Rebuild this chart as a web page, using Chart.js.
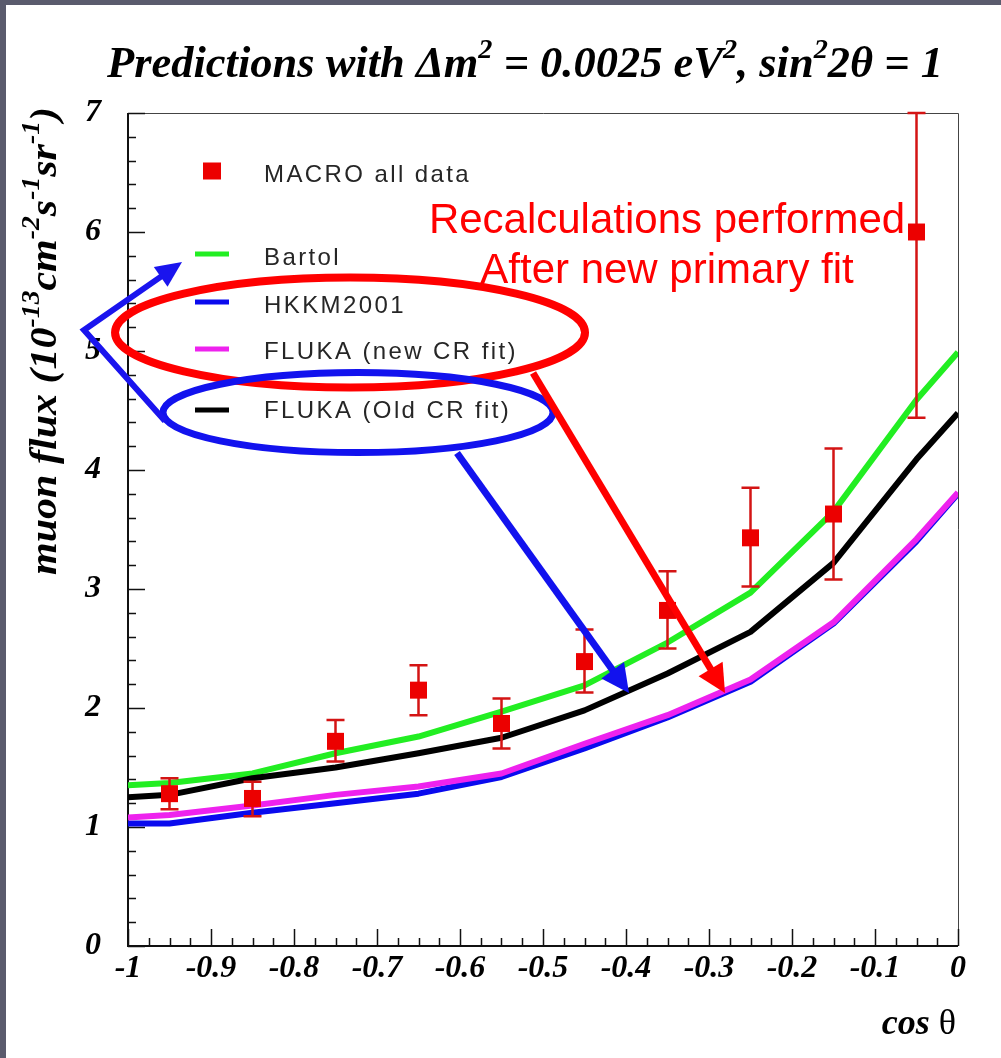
<!DOCTYPE html>
<html>
<head>
<meta charset="utf-8">
<title>Muon flux vs cos theta</title>
<script src="https://cdn.jsdelivr.net/npm/chart.js@4.4.1/dist/chart.umd.min.js"></script>
<style>
  html, body { margin: 0; padding: 0; background: #fff; }
  canvas { display: block; }
</style>
</head>
<body>
<canvas id="flux" width="1001" height="1058"></canvas>
<script>
// MACRO upward-going muons, 10 bins in cos(theta)
const binCos    = [-0.95, -0.85, -0.75, -0.65, -0.55, -0.45, -0.35, -0.25, -0.15, -0.05];
const macroFlux = [1.28, 1.24, 1.72, 2.15, 1.87, 2.39, 2.82, 3.43, 3.63, 6.00];
const macroLow  = [1.15, 1.09, 1.55, 1.94, 1.66, 2.13, 2.50, 3.02, 3.08, 4.44];
const macroHigh = [1.41, 1.38, 1.90, 2.36, 2.08, 2.66, 3.15, 3.85, 4.18, 7.00];

// MC predictions (oscillated), evaluated at bin centres plus the range ends
const curveCos = [-1, -0.95, -0.85, -0.75, -0.65, -0.55, -0.45, -0.35, -0.25, -0.15, -0.05, 0];
const bartol   = [1.35, 1.37, 1.45, 1.62, 1.76, 1.97, 2.19, 2.55, 2.97, 3.65, 4.59, 4.99];
const hkkm2001 = [1.03, 1.03, 1.12, 1.20, 1.28, 1.42, 1.66, 1.92, 2.22, 2.71, 3.40, 3.80];
const flukaNew = [1.08, 1.10, 1.18, 1.27, 1.34, 1.45, 1.70, 1.94, 2.24, 2.72, 3.42, 3.81];
const flukaOld = [1.25, 1.27, 1.41, 1.50, 1.62, 1.75, 1.98, 2.29, 2.64, 3.22, 4.09, 4.48];

const xTickLabels = ["-1", "-0.9", "-0.8", "-0.7", "-0.6", "-0.5", "-0.4", "-0.3", "-0.2", "-0.1", "0"];
const yTickLabels = ["0", "1", "2", "3", "4", "5", "6", "7"];

const SERIF = '"Liberation Serif", "Times New Roman", serif';
const SANS = '"Liberation Sans", Arial, sans-serif';

const toPoints = (xs, ys) => xs.map((x, i) => ({ x: x, y: ys[i] }));

// draw a run of text pieces (with superscripts) squeezed to a given width
function fitText(ctx, parts, x, y, width) {
  let total = 0;
  parts.forEach(p => { ctx.font = p.font; total += ctx.measureText(p.text).width; });
  ctx.save();
  ctx.translate(x, y);
  ctx.scale(width / total, 1);
  ctx.textBaseline = "alphabetic";
  ctx.textAlign = "left";
  let cx = 0;
  parts.forEach(p => {
    ctx.font = p.font;
    ctx.fillText(p.text, cx, p.dy || 0);
    cx += ctx.measureText(p.text).width;
  });
  ctx.restore();
}

function arrowLine(ctx, pts, color, lw, headLen, headHalf) {
  const n = pts.length;
  const [tx, ty] = pts[n - 1];
  const [bx, by] = pts[n - 2];
  const ang = Math.atan2(ty - by, tx - bx);
  ctx.save();
  ctx.strokeStyle = color;
  ctx.fillStyle = color;
  ctx.lineWidth = lw;
  ctx.lineJoin = "miter";
  ctx.beginPath();
  ctx.moveTo(pts[0][0], pts[0][1]);
  for (let i = 1; i < n - 1; i++) ctx.lineTo(pts[i][0], pts[i][1]);
  ctx.lineTo(tx - Math.cos(ang) * headLen * 0.8, ty - Math.sin(ang) * headLen * 0.8);
  ctx.stroke();
  ctx.beginPath();
  ctx.moveTo(tx, ty);
  ctx.lineTo(tx - Math.cos(ang) * headLen - Math.sin(ang) * headHalf,
             ty - Math.sin(ang) * headLen + Math.cos(ang) * headHalf);
  ctx.lineTo(tx - Math.cos(ang) * headLen + Math.sin(ang) * headHalf,
             ty - Math.sin(ang) * headLen - Math.cos(ang) * headHalf);
  ctx.closePath();
  ctx.fill();
  ctx.restore();
}

// slide background, axis frame, ticks and axis texts
const framePlugin = {
  id: "frame",
  beforeDraw(chart) {
    const ctx = chart.ctx;
    ctx.save();
    ctx.fillStyle = "#ffffff";
    ctx.fillRect(0, 0, chart.width, chart.height);
    ctx.fillStyle = "#5a5b6d";
    ctx.fillRect(0, 0, chart.width, 5);
    ctx.fillRect(0, 0, 6, chart.height);
    ctx.restore();
  },
  beforeDatasetsDraw(chart) {
    const ctx = chart.ctx;
    const a = chart.chartArea;
    const xs = chart.scales.x, ys = chart.scales.y;
    ctx.save();

    // thin frame on top/right
    ctx.strokeStyle = "#444";
    ctx.lineWidth = 1;
    ctx.beginPath();
    ctx.moveTo(a.left, a.top + 0.5);
    ctx.lineTo(a.right + 0.5, a.top + 0.5);
    ctx.lineTo(a.right + 0.5, a.bottom);
    ctx.stroke();

    // axes
    ctx.strokeStyle = "#111";
    ctx.lineWidth = 2;
    ctx.beginPath();
    ctx.moveTo(a.left, a.top);
    ctx.lineTo(a.left, a.bottom);
    ctx.lineTo(a.right, a.bottom);
    ctx.stroke();

    // ticks, pointing into the frame
    ctx.lineWidth = 1.5;
    ctx.beginPath();
    for (let i = 0; i <= 35; i++) {
      const py = Math.round(ys.getPixelForValue(i * 0.2)) + 0.5;
      const len = i % 5 === 0 ? 17 : 8;
      ctx.moveTo(a.left, py);
      ctx.lineTo(a.left + len, py);
    }
    for (let i = 0; i <= 40; i++) {
      const px = Math.round(xs.getPixelForValue(-1 + i * 0.025)) + 0.5;
      const len = i % 4 === 0 ? 17 : 8;
      ctx.moveTo(px, a.bottom);
      ctx.lineTo(px, a.bottom - len);
    }
    ctx.stroke();

    // tick labels
    ctx.fillStyle = "#000";
    ctx.font = "italic bold 32px " + SERIF;
    ctx.textBaseline = "middle";
    ctx.textAlign = "right";
    yTickLabels.forEach((t, i) => ctx.fillText(t, a.left - 27, ys.getPixelForValue(i)));
    ctx.textAlign = "center";
    xTickLabels.forEach((t, i) => ctx.fillText(t, xs.getPixelForValue(-1 + i * 0.1), a.bottom + 23));

    // title
    const big = "italic bold 44px " + SERIF;
    const sup = "italic bold 28px " + SERIF;
    fitText(ctx, [
      { text: "Predictions with \u0394m", font: big },
      { text: "2", font: sup, dy: -19 },
      { text: " = 0.0025 eV", font: big },
      { text: "2", font: sup, dy: -19 },
      { text: ", sin", font: big },
      { text: "2", font: sup, dy: -19 },
      { text: "2\u03b8 = 1", font: big }
    ], 107, 77, 836);

    // y axis title, rotated
    const yt = "italic bold 38px " + SERIF;
    const ys2 = "italic bold 25px " + SERIF;
    ctx.save();
    ctx.translate(56, 575);
    ctx.rotate(-Math.PI / 2);
    fitText(ctx, [
      { text: "muon flux (10", font: yt },
      { text: "-13", font: ys2, dy: -17 },
      { text: "cm", font: yt },
      { text: "-2", font: ys2, dy: -17 },
      { text: "s", font: yt },
      { text: "-1", font: ys2, dy: -17 },
      { text: "sr", font: yt },
      { text: "-1", font: ys2, dy: -17 },
      { text: ")", font: yt }
    ], 0, 0, 468);
    ctx.restore();

    // x axis title
    ctx.textAlign = "left";
    ctx.textBaseline = "alphabetic";
    const cosFont = "italic bold 36px " + SERIF;
    const thFont = "36px " + SERIF;
    ctx.font = thFont;
    const wTh = ctx.measureText("\u03b8").width;
    ctx.font = cosFont;
    const wCos = ctx.measureText("cos ").width;
    const x0 = 956 - wTh - wCos;
    ctx.fillText("cos ", x0, 1034);
    ctx.font = thFont;
    ctx.fillText("\u03b8", x0 + wCos, 1034);

    ctx.restore();
  }
};

// vertical error bars with caps, drawn just under the MACRO markers
const errorBarPlugin = {
  id: "errorBars",
  beforeDatasetDraw(chart, args) {
    if (args.index !== 0) return;
    const ctx = chart.ctx;
    const xs = chart.scales.x, ys = chart.scales.y;
    ctx.save();
    ctx.strokeStyle = "#d41414";
    ctx.lineWidth = 2.5;
    ctx.beginPath();
    binCos.forEach((c, i) => {
      const px = xs.getPixelForValue(c);
      const top = ys.getPixelForValue(macroHigh[i]);
      const bot = ys.getPixelForValue(macroLow[i]);
      ctx.moveTo(px, top);
      ctx.lineTo(px, bot);
      ctx.moveTo(px - 9, top);
      ctx.lineTo(px + 9, top);
      ctx.moveTo(px - 9, bot);
      ctx.lineTo(px + 9, bot);
    });
    ctx.stroke();
    ctx.restore();
  }
};

// legend block inside the frame
const legendRows = [
  { mark: 171, text: 175 },
  { mark: 254, text: 258 },
  { mark: 302, text: 306 },
  { mark: 349, text: 352 },
  { mark: 410, text: 411 }
];
const legendPlugin = {
  id: "insetLegend",
  afterDatasetsDraw(chart) {
    const ctx = chart.ctx;
    ctx.save();
    ctx.font = "24px " + SANS;
    ctx.letterSpacing = "2.4px";
    ctx.textBaseline = "middle";
    ctx.textAlign = "left";
    chart.data.datasets.forEach((ds, i) => {
      const row = legendRows[i];
      if (ds.showLine) {
        ctx.fillStyle = ds.borderColor;
        ctx.fillRect(195, row.mark - 2.5, 34, 5);
      } else {
        ctx.fillStyle = ds.backgroundColor;
        ctx.fillRect(203, row.mark - 8.5, 18, 17);
      }
      ctx.fillStyle = "#262626";
      ctx.fillText(ds.label, 264, row.text);
    });
    ctx.restore();
  }
};

// ellipses, arrows and the red note, anchored in data coordinates
const notes = {
  redEllipse:  { x: -0.7325, y: 5.155, rx: 235, ry: 55, color: "#ff0000", width: 8 },
  blueEllipse: { x: -0.7229, y: 4.483, rx: 195, ry: 40, color: "#1212ee", width: 7 },
  blueBent:    [[-0.9554, 4.412], [-1.053, 5.176], [-0.9349, 5.748]],
  blueArrow:   [[-0.6036, 4.143], [-0.3964, 2.126]],
  redArrow:    [[-0.512, 4.815], [-0.2807, 2.126]],
  text: { x: -0.3506, lines: ["Recalculations performed", "After new primary fit"], y: [5.992, 5.571] }
};
const notesPlugin = {
  id: "notes",
  afterDraw(chart) {
    const ctx = chart.ctx;
    const xs = chart.scales.x, ys = chart.scales.y;
    const P = p => [xs.getPixelForValue(p[0]), ys.getPixelForValue(p[1])];
    ctx.save();

    ctx.fillStyle = "#ff0000";
    ctx.font = "42px " + SANS;
    ctx.textAlign = "center";
    ctx.textBaseline = "alphabetic";
    notes.text.lines.forEach((t, i) =>
      ctx.fillText(t, xs.getPixelForValue(notes.text.x), ys.getPixelForValue(notes.text.y[i])));

    [notes.redEllipse, notes.blueEllipse].forEach(e => {
      ctx.strokeStyle = e.color;
      ctx.lineWidth = e.width;
      ctx.beginPath();
      ctx.ellipse(xs.getPixelForValue(e.x), ys.getPixelForValue(e.y), e.rx, e.ry, 0, 0, Math.PI * 2);
      ctx.stroke();
    });

    arrowLine(ctx, notes.blueBent.map(P), "#1a14ee", 6, 26, 12);
    arrowLine(ctx, notes.blueArrow.map(P), "#1212ee", 7, 28, 14);
    arrowLine(ctx, notes.redArrow.map(P), "#ff0000", 7, 28, 14);
    ctx.restore();
  }
};

const lineSet = (label, values, color, order) => ({
  label: label,
  data: toPoints(curveCos, values),
  showLine: true,
  borderColor: color,
  backgroundColor: color,
  borderWidth: 6,
  borderJoinStyle: "round",
  pointRadius: 0,
  tension: 0,
  order: order
});

new Chart(document.getElementById("flux"), {
  type: "scatter",
  data: {
    datasets: [
      {
        label: "MACRO all data",
        data: toPoints(binCos, macroFlux),
        pointStyle: "rect",
        pointRadius: 12,
        backgroundColor: "#ec0000",
        borderColor: "#ec0000",
        borderWidth: 0,
        showLine: false,
        order: 0
      },
      lineSet("Bartol", bartol, "#22ee22", 4),
      lineSet("HKKM2001", hkkm2001, "#0a0aee", 2),
      lineSet("FLUKA (new CR fit)", flukaNew, "#ee22ee", 1),
      lineSet("FLUKA (Old CR fit)", flukaOld, "#000000", 3)
    ]
  },
  options: {
    responsive: false,
    animation: false,
    devicePixelRatio: 1,
    events: [],
    layout: { padding: { left: 128, right: 43, top: 113, bottom: 112 } },
    scales: {
      x: { type: "linear", min: -1, max: 0, display: false },
      y: { type: "linear", min: 0, max: 7, display: false }
    },
    plugins: {
      legend: { display: false },
      tooltip: { enabled: false },
      title: { display: false }
    }
  },
  plugins: [framePlugin, errorBarPlugin, legendPlugin, notesPlugin]
});
</script>
</body>
</html>
